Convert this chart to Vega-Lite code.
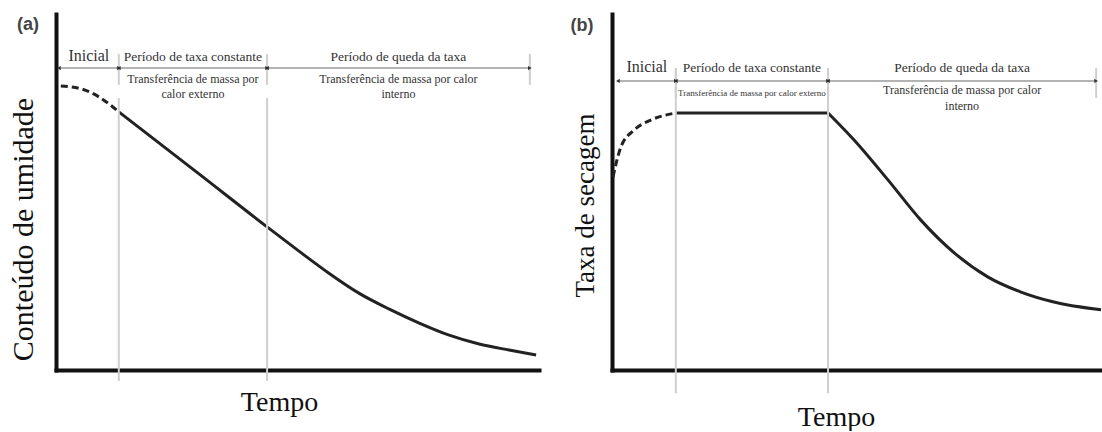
{
  "$schema": "https://vega.github.io/schema/vega-lite/v6.json",
  "background": "white",
  "padding": {"left": 8, "top": 14, "right": 0, "bottom": 0},
  "spacing": 73,
  "bounds": "flush",
  "config": {
    "view": {"stroke": null},
    "text": {"font": "Liberation Serif", "color": "#333333"},
    "axis": {
      "ticks": false, "labels": false, "grid": false,
      "domainColor": "#111111", "domainWidth": 4, "domainCap": "square",
      "titleFont": "Liberation Serif", "titleFontWeight": "normal", "titleColor": "#111111",
      "zindex": 1
    }
  },
  "datasets": {
    "curva_a": [
      {"t": 1.0, "umidade": 79.8, "trecho": "inicial"},
      {"t": 5.4, "umidade": 78.9, "trecho": "inicial"},
      {"t": 8.9, "umidade": 76.7, "trecho": "inicial"},
      {"t": 13.0, "umidade": 72.5, "trecho": "inicial"},
      {"t": 13.0, "umidade": 72.5, "trecho": "secagem"},
      {"t": 29.6, "umidade": 55.1, "trecho": "secagem"},
      {"t": 43.7, "umidade": 40.2, "trecho": "secagem"},
      {"t": 50.3, "umidade": 33.4, "trecho": "secagem"},
      {"t": 56.5, "umidade": 27.2, "trecho": "secagem"},
      {"t": 62.7, "umidade": 21.6, "trecho": "secagem"},
      {"t": 69.0, "umidade": 17.1, "trecho": "secagem"},
      {"t": 75.2, "umidade": 13.2, "trecho": "secagem"},
      {"t": 81.4, "umidade": 9.8, "trecho": "secagem"},
      {"t": 87.6, "umidade": 7.3, "trecho": "secagem"},
      {"t": 93.8, "umidade": 5.6, "trecho": "secagem"},
      {"t": 99.4, "umidade": 4.2, "trecho": "secagem"}
    ],
    "curva_b": [
      {"t": 0.2, "taxa": 54.2, "trecho": "inicial"},
      {"t": 1.8, "taxa": 62.6, "trecho": "inicial"},
      {"t": 4.5, "taxa": 67.4, "trecho": "inicial"},
      {"t": 7.9, "taxa": 70.2, "trecho": "inicial"},
      {"t": 13.0, "taxa": 72.2, "trecho": "inicial"},
      {"t": 13.0, "taxa": 72.2, "trecho": "constante"},
      {"t": 44.0, "taxa": 72.2, "trecho": "constante"},
      {"t": 44.0, "taxa": 72.2, "trecho": "queda"},
      {"t": 49.3, "taxa": 64.6, "trecho": "queda"},
      {"t": 56.2, "taxa": 53.4, "trecho": "queda"},
      {"t": 62.9, "taxa": 42.1, "trecho": "queda"},
      {"t": 69.7, "taxa": 32.9, "trecho": "queda"},
      {"t": 76.6, "taxa": 26.1, "trecho": "queda"},
      {"t": 83.3, "taxa": 21.9, "trecho": "queda"},
      {"t": 90.0, "taxa": 19.1, "trecho": "queda"},
      {"t": 99.6, "taxa": 16.9, "trecho": "queda"}
    ],
    "fases_a": [
      {"fase": "Inicial", "inicio": 0.6, "fim": 13.0, "detalhe": ""},
      {"fase": "Período de taxa constante", "inicio": 13.0, "fim": 43.7, "detalhe": "Transferência de massa por\ncalor externo"},
      {"fase": "Período de queda da taxa", "inicio": 43.7, "fim": 98.1, "detalhe": "Transferência de massa por calor\ninterno"}
    ],
    "fases_b": [
      {"fase": "Inicial", "inicio": 1.2, "fim": 13.0, "detalhe": ""},
      {"fase": "Período de taxa constante", "inicio": 13.0, "fim": 44.0, "detalhe": "Transferência de massa por calor externo"},
      {"fase": "Período de queda da taxa", "inicio": 44.0, "fim": 98.6, "detalhe": "Transferência de massa por calor\ninterno"}
    ],
    "paineis": [
      {"painel": "(a)"},
      {"painel": "(b)"}
    ]
  },
  "hconcat": [
    {
      "width": 483,
      "height": 356,
      "layer": [
        {
          "data": {"name": "curva_a"},
          "transform": [{"filter": "datum.trecho !== 'inicial'"}],
          "mark": {"type": "line", "color": "#222222", "strokeWidth": 3, "interpolate": "monotone"},
          "encoding": {
            "x": {
              "field": "t", "type": "quantitative", "scale": {"domain": [0, 100]},
              "axis": {"title": "Tempo", "titleFontSize": 28, "titlePadding": 18, "titleX": 223}
            },
            "y": {
              "field": "umidade", "type": "quantitative", "scale": {"domain": [0, 100]},
              "axis": {"title": "Conteúdo de umidade", "titleFontSize": 30, "titlePadding": 18, "titleY": 215}
            }
          }
        },
        {
          "data": {"name": "curva_a"},
          "transform": [{"filter": "datum.trecho === 'inicial'"}],
          "mark": {"type": "line", "color": "#222222", "strokeWidth": 3, "strokeDash": [7, 4], "interpolate": "monotone"},
          "encoding": {
            "x": {"field": "t", "type": "quantitative", "scale": {"domain": [0, 100]}},
            "y": {"field": "umidade", "type": "quantitative", "scale": {"domain": [0, 100]}}
          }
        },
        {
          "data": {"name": "fases_a"},
          "transform": [{"filter": "datum.fase !== 'Período de queda da taxa'"}],
          "mark": {"type": "rule", "color": "#cfcfcf", "strokeWidth": 2},
          "encoding": {
            "x": {"field": "fim", "type": "quantitative", "scale": {"domain": [0, 100]}},
            "y": {"datum": 76.4, "type": "quantitative", "scale": {"domain": [0, 100]}},
            "y2": {"datum": -3.1}
          }
        },
        {
          "data": {"name": "fases_a"},
          "mark": {"type": "rule", "color": "#cfcfcf", "strokeWidth": 2},
          "encoding": {
            "x": {"field": "fim", "type": "quantitative", "scale": {"domain": [0, 100]}},
            "y": {"datum": 88.8, "type": "quantitative", "scale": {"domain": [0, 100]}},
            "y2": {"datum": 80.1}
          }
        },
        {
          "data": {"name": "fases_a"},
          "mark": {"type": "rule", "color": "#9a9a9a", "strokeWidth": 1.5},
          "encoding": {
            "x": {"field": "inicio", "type": "quantitative", "scale": {"domain": [0, 100]}},
            "x2": {"field": "fim"},
            "y": {"datum": 84.8, "type": "quantitative", "scale": {"domain": [0, 100]}}
          }
        },
        {
          "data": {"name": "fases_a"},
          "mark": {"type": "point", "shape": "triangle-left", "size": 18, "filled": true, "color": "#333333", "opacity": 1},
          "encoding": {
            "x": {"field": "inicio", "type": "quantitative", "scale": {"domain": [0, 100]}},
            "y": {"datum": 84.8, "type": "quantitative", "scale": {"domain": [0, 100]}}
          }
        },
        {
          "data": {"name": "fases_a"},
          "mark": {"type": "point", "shape": "triangle-right", "size": 18, "filled": true, "color": "#333333", "opacity": 1},
          "encoding": {
            "x": {"field": "fim", "type": "quantitative", "scale": {"domain": [0, 100]}},
            "y": {"datum": 84.8, "type": "quantitative", "scale": {"domain": [0, 100]}}
          }
        },
        {
          "data": {"name": "fases_a"},
          "transform": [{"calculate": "(datum.inicio + datum.fim) / 2", "as": "meio"}],
          "mark": {"type": "text", "font": "Liberation Serif", "baseline": "alphabetic", "align": "center", "dy": -7},
          "encoding": {
            "x": {"field": "meio", "type": "quantitative", "scale": {"domain": [0, 100]}},
            "y": {"datum": 84.8, "type": "quantitative", "scale": {"domain": [0, 100]}},
            "text": {"field": "fase"},
            "size": {"condition": {"test": "datum.fase === 'Inicial'", "value": 16}, "value": 13.5}
          }
        },
        {
          "data": {"name": "fases_a"},
          "transform": [
            {"filter": "datum.detalhe !== ''"},
            {"calculate": "(datum.inicio + datum.fim) / 2", "as": "meio"}
          ],
          "mark": {"type": "text", "font": "Liberation Serif", "baseline": "alphabetic", "align": "center", "dy": 15, "fontSize": 12, "lineBreak": "\n", "lineHeight": 15},
          "encoding": {
            "x": {"field": "meio", "type": "quantitative", "scale": {"domain": [0, 100]}},
            "y": {"datum": 84.8, "type": "quantitative", "scale": {"domain": [0, 100]}},
            "text": {"field": "detalhe"}
          }
        },
        {
          "data": {"name": "paineis"},
          "transform": [{"filter": "datum.painel === '(a)'"}],
          "mark": {"type": "text", "font": "Liberation Sans", "fontWeight": "bold", "fontSize": 18, "color": "#444444", "align": "center", "baseline": "middle"},
          "encoding": {
            "x": {"datum": -5.8, "type": "quantitative", "scale": {"domain": [0, 100]}},
            "y": {"datum": 96.9, "type": "quantitative", "scale": {"domain": [0, 100]}},
            "text": {"field": "painel"}
          }
        }
      ]
    },
    {
      "width": 491,
      "height": 356,
      "layer": [
        {
          "data": {"name": "curva_b"},
          "transform": [{"filter": "datum.trecho !== 'inicial'"}],
          "mark": {"type": "line", "color": "#222222", "strokeWidth": 3, "interpolate": "monotone"},
          "encoding": {
            "x": {
              "field": "t", "type": "quantitative", "scale": {"domain": [0, 100]},
              "axis": {"title": "Tempo", "titleFontSize": 28, "titlePadding": 33, "titleX": 224}
            },
            "y": {
              "field": "taxa", "type": "quantitative", "scale": {"domain": [0, 100]},
              "axis": {"title": "Taxa de secagem", "titleFontSize": 27, "titlePadding": 13, "titleY": 191}
            },
            "detail": {"field": "trecho"}
          }
        },
        {
          "data": {"name": "curva_b"},
          "transform": [{"filter": "datum.trecho === 'inicial'"}],
          "mark": {"type": "line", "color": "#222222", "strokeWidth": 3, "strokeDash": [7, 4], "interpolate": "monotone"},
          "encoding": {
            "x": {"field": "t", "type": "quantitative", "scale": {"domain": [0, 100]}},
            "y": {"field": "taxa", "type": "quantitative", "scale": {"domain": [0, 100]}}
          }
        },
        {
          "data": {"name": "fases_b"},
          "transform": [{"filter": "datum.fase !== 'Período de queda da taxa'"}],
          "mark": {"type": "rule", "color": "#cfcfcf", "strokeWidth": 2},
          "encoding": {
            "x": {"field": "fim", "type": "quantitative", "scale": {"domain": [0, 100]}},
            "y": {"datum": 84.8, "type": "quantitative", "scale": {"domain": [0, 100]}},
            "y2": {"datum": -6.5}
          }
        },
        {
          "data": {"name": "fases_b"},
          "mark": {"type": "rule", "color": "#cfcfcf", "strokeWidth": 2},
          "encoding": {
            "x": {"field": "fim", "type": "quantitative", "scale": {"domain": [0, 100]}},
            "y": {"datum": 84.8, "type": "quantitative", "scale": {"domain": [0, 100]}},
            "y2": {"datum": 76.4}
          }
        },
        {
          "data": {"name": "fases_b"},
          "mark": {"type": "rule", "color": "#9a9a9a", "strokeWidth": 1.5},
          "encoding": {
            "x": {"field": "inicio", "type": "quantitative", "scale": {"domain": [0, 100]}},
            "x2": {"field": "fim"},
            "y": {"datum": 81.2, "type": "quantitative", "scale": {"domain": [0, 100]}}
          }
        },
        {
          "data": {"name": "fases_b"},
          "mark": {"type": "point", "shape": "triangle-left", "size": 18, "filled": true, "color": "#333333", "opacity": 1},
          "encoding": {
            "x": {"field": "inicio", "type": "quantitative", "scale": {"domain": [0, 100]}},
            "y": {"datum": 81.2, "type": "quantitative", "scale": {"domain": [0, 100]}}
          }
        },
        {
          "data": {"name": "fases_b"},
          "mark": {"type": "point", "shape": "triangle-right", "size": 18, "filled": true, "color": "#333333", "opacity": 1},
          "encoding": {
            "x": {"field": "fim", "type": "quantitative", "scale": {"domain": [0, 100]}},
            "y": {"datum": 81.2, "type": "quantitative", "scale": {"domain": [0, 100]}}
          }
        },
        {
          "data": {"name": "fases_b"},
          "transform": [{"calculate": "(datum.inicio + datum.fim) / 2", "as": "meio"}],
          "mark": {"type": "text", "font": "Liberation Serif", "baseline": "alphabetic", "align": "center", "dy": -9},
          "encoding": {
            "x": {"field": "meio", "type": "quantitative", "scale": {"domain": [0, 100]}},
            "y": {"datum": 81.2, "type": "quantitative", "scale": {"domain": [0, 100]}},
            "text": {"field": "fase"},
            "size": {"condition": {"test": "datum.fase === 'Inicial'", "value": 16}, "value": 13.5}
          }
        },
        {
          "data": {"name": "fases_b"},
          "transform": [
            {"filter": "datum.fase === 'Período de queda da taxa'"},
            {"calculate": "(datum.inicio + datum.fim) / 2", "as": "meio"}
          ],
          "mark": {"type": "text", "font": "Liberation Serif", "baseline": "alphabetic", "align": "center", "dy": 13, "fontSize": 12, "lineBreak": "\n", "lineHeight": 16},
          "encoding": {
            "x": {"field": "meio", "type": "quantitative", "scale": {"domain": [0, 100]}},
            "y": {"datum": 81.2, "type": "quantitative", "scale": {"domain": [0, 100]}},
            "text": {"field": "detalhe"}
          }
        },
        {
          "data": {"name": "fases_b"},
          "transform": [
            {"filter": "datum.fase === 'Período de taxa constante'"},
            {"calculate": "(datum.inicio + datum.fim) / 2", "as": "meio"}
          ],
          "mark": {"type": "text", "font": "Liberation Serif", "baseline": "alphabetic", "align": "center", "dy": 15, "fontSize": 9},
          "encoding": {
            "x": {"field": "meio", "type": "quantitative", "scale": {"domain": [0, 100]}},
            "y": {"datum": 81.2, "type": "quantitative", "scale": {"domain": [0, 100]}},
            "text": {"field": "detalhe"}
          }
        },
        {
          "data": {"name": "paineis"},
          "transform": [{"filter": "datum.painel === '(b)'"}],
          "mark": {"type": "text", "font": "Liberation Sans", "fontWeight": "bold", "fontSize": 18, "color": "#444444", "align": "center", "baseline": "middle"},
          "encoding": {
            "x": {"datum": -6.1, "type": "quantitative", "scale": {"domain": [0, 100]}},
            "y": {"datum": 96.6, "type": "quantitative", "scale": {"domain": [0, 100]}},
            "text": {"field": "painel"}
          }
        }
      ]
    }
  ]
}
